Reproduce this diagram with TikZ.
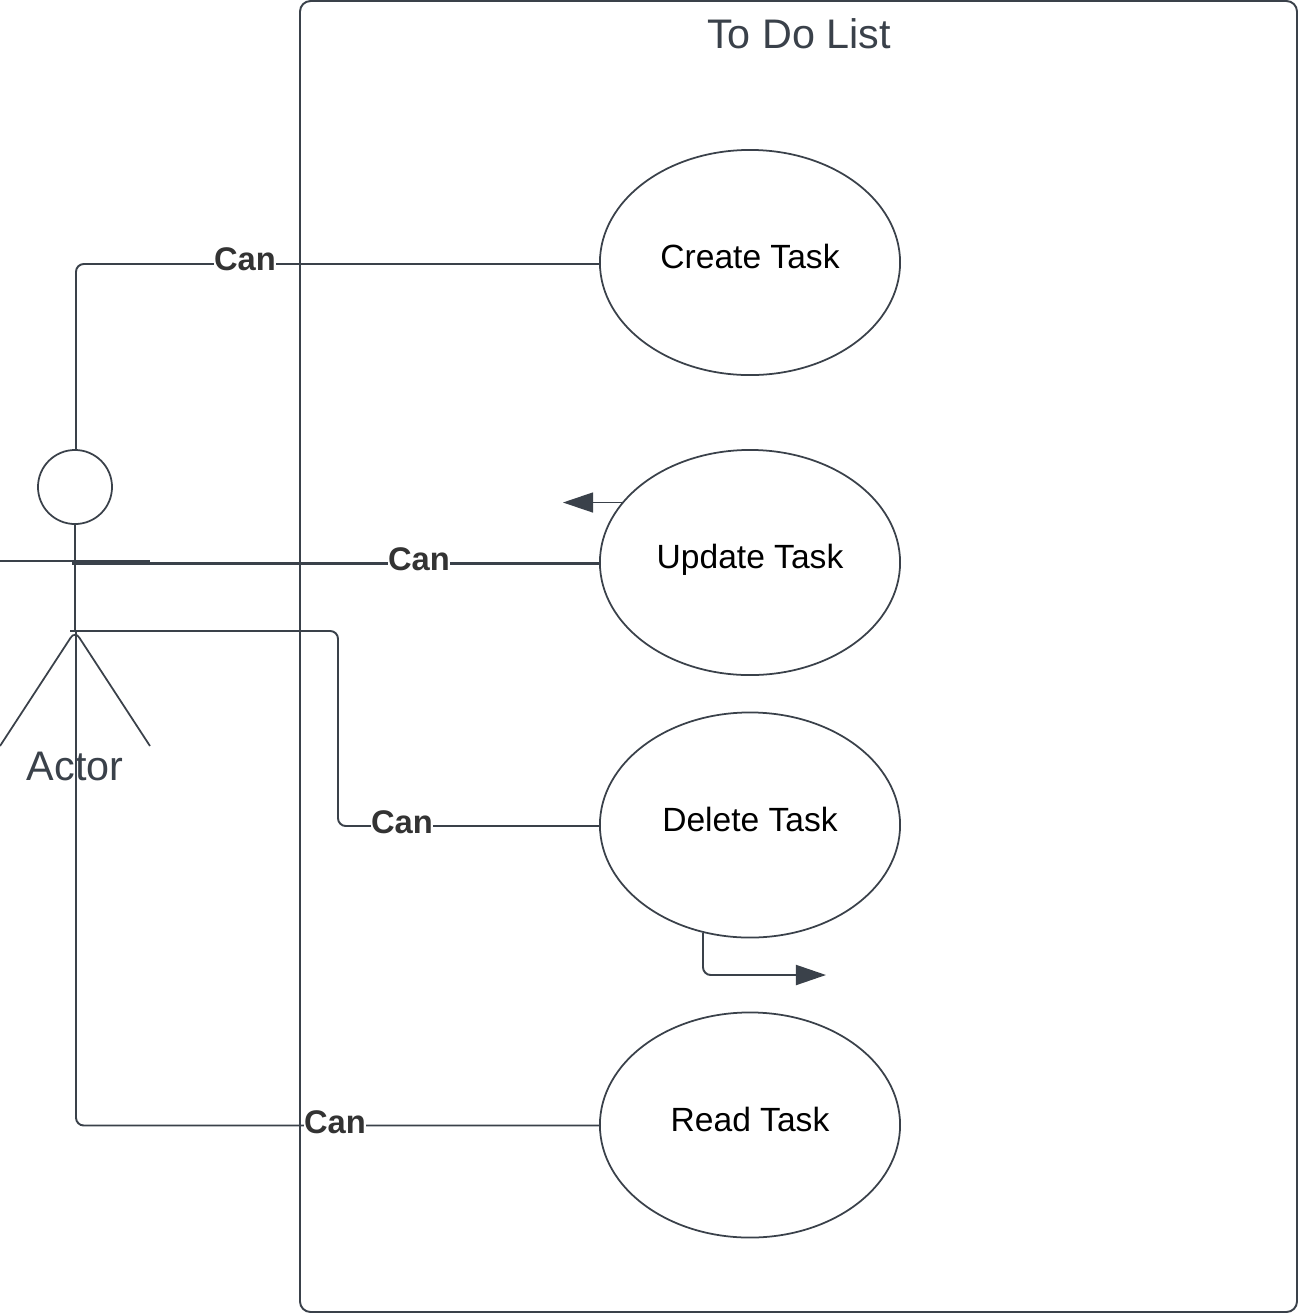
\documentclass[tikz,border=0pt]{standalone}
\usepackage{fontspec}
\setmainfont{Liberation Sans}
\usepackage{tikz}
\usetikzlibrary{shapes,arrows.meta}
\pgfdeclarelayer{background}
\pgfdeclarelayer{foreground}
\pgfsetlayers{background,main,foreground}
\definecolor{linegray}{HTML}{3A414A}
\definecolor{cangray}{HTML}{333333}
\tikzset{
  usecase/.style={draw=linegray, line width=0.5pt, ellipse, minimum width=3cm, minimum height=2.25cm, inner sep=0pt, outer sep=0pt, text depth=3.4pt, font=\fontsize{9.55}{11}\selectfont},
  canlabel/.style={fill=white, text=cangray, inner sep=0pt, font=\fontsize{9.3}{11}\selectfont\bfseries},
  wire/.style={draw=linegray, line width=0.55pt, rounded corners=2.2pt},
  bigtext/.style={text=linegray, inner sep=0pt, font=\fontsize{11.75}{14}\selectfont},
  tip/.style={-{Triangle[length=0.3cm,width=0.2cm]}}
}
\begin{document}
\begin{tikzpicture}[x=0.01cm,y=-0.01cm]
\useasboundingbox (0,0) rectangle (1298,1314);

\begin{pgfonlayer}{background}
\draw [wire, rounded corners=3pt] (300,1) rectangle (1297,1312);
\end{pgfonlayer}

\node [bigtext] (title) at (799,34) {To Do List};

\node [usecase] (create) at (750,262.5) {Create Task};
\node [usecase] (update) at (750,562.5) {Update Task};
\node [usecase] (delete) at (750,825) {Delete Task};
\node [usecase] (read) at (750,1125) {Read Task};

% actor
\node [draw=linegray, line width=0.5pt, circle, minimum size=0.74cm, inner sep=0pt, outer sep=0pt] (head) at (75,487) {};
\coordinate (hip) at (75,631);
\coordinate (handl) at (0,561);
\coordinate (handr) at (150,561);
\coordinate (footl) at (0,746);
\coordinate (footr) at (150,746);
\node [bigtext] (actor) at (75,766) {Actor};
\draw [wire] (head.south) -- (hip);
\draw [wire, line width=0.45pt] (handl) -- (handr);
\draw [wire, line width=0.5pt] (footl) -- (hip) -- (footr);

% connectors
\coordinate (upstart) at (72,563.5);
\coordinate (delstart) at (70,631);
\coordinate (readstart) at (76,631);
\draw [wire] (head.north) ++(1,0) |- (create.west |- 0,264);
\draw [wire, line width=0.85pt] (upstart) -- (update.west |- upstart);
\draw [wire] (delstart) -| (338,826) -- (delete.west |- 0,826);
\draw [wire] (readstart) |- (read.west |- 0,1125.5);

\coordinate (upout) at (622,502.5);
\coordinate (delout) at (703,933);
\draw [wire, line width=0.35pt, tip, fill=none] (upout) -- (563,502.5);
\draw [wire, tip, fill=none] (delout) |- (826,975);

\begin{pgfonlayer}{foreground}
\node [canlabel] (cancreate) at (245,259.5) {Can};
\node [canlabel] (canupdate) at (419,559.5) {Can};
\node [canlabel] (candelete) at (402,822) {Can};
\node [canlabel] (canread) at (335,1122) {Can};
\end{pgfonlayer}
\end{tikzpicture}
\end{document}
